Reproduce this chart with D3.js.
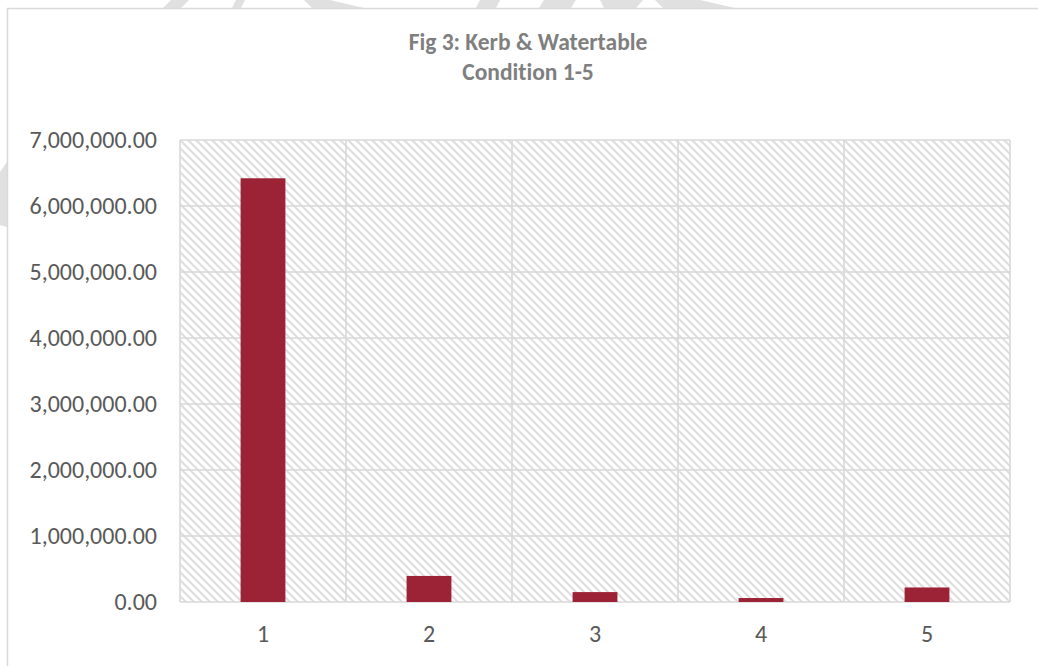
<!DOCTYPE html>
<html>
<head>
<meta charset="utf-8">
<script src="https://cdn.jsdelivr.net/npm/d3@7"></script>
<style>
  html, body { margin: 0; padding: 0; background: #ffffff; }
  svg { display: block; }
  text { font-variant-ligatures: none; }
</style>
</head>
<body>
<svg id="chart" width="1038" height="666"></svg>
<script>
// Kerb & watertable quantities by condition rating
const categories = ["1", "2", "3", "4", "5"];
const values = [6420000, 395000, 150000, 60000, 220000];
const yTicks = [0, 1000000, 2000000, 3000000, 4000000, 5000000, 6000000, 7000000];
const titleLines = ["Fig 3: Kerb & Watertable", "Condition 1-5"];

const W = 1038, H = 666;
const plot = { left: 180, right: 1010, top: 140, bottom: 602 };
const gridColor = "#d9d9d9";
const barColor = "#9c2235";
const fontFamily = "Calibri, Carlito, 'Liberation Sans', Arial, sans-serif";

const svg = d3.select("#chart");

// hatch fill for the plot area
const defs = svg.append("defs");
const pat = defs.append("pattern")
  .attr("id", "hatch")
  .attr("patternUnits", "userSpaceOnUse")
  .attr("width", 8).attr("height", 8);
pat.append("rect").attr("width", 8).attr("height", 8).attr("fill", "#ffffff");
pat.append("path")
  .attr("d", "M-2,-2 L10,10 M-2,6 L2,10 M6,-2 L10,2")
  .attr("stroke", "#dedede")
  .attr("stroke-width", 2);

// faint page watermark pieces peeking out around the chart frame
const wm = svg.append("g").attr("fill", "#e0e0e0");
[
  [[163, 8], [171, 0], [189, 0], [181, 8]],
  [[232, 8], [236, 0], [245, 0], [241, 8]],
  [[304, 0], [330, 0], [364, 8], [312, 8]],
  [[476, 8], [480, 0], [500, 0], [496, 8]],
  [[539, 8], [544, 0], [576, 0], [571, 8]],
  [[600, 0], [643, 0], [636, 8], [604, 8]],
  [[655, 0], [700, 0], [735, 8], [663, 8]],
  [[7, 162], [0, 172], [0, 225], [7, 227]]
].forEach(p => wm.append("polygon").attr("points", p.map(d => d.join(",")).join(" ")));

// chart frame
svg.append("rect")
  .attr("x", 7.5).attr("y", 8.5)
  .attr("width", W + 20).attr("height", H + 20)
  .attr("fill", "#ffffff")
  .attr("stroke", gridColor)
  .attr("stroke-width", 1.5);

// scales
const x = d3.scaleBand()
  .domain(categories)
  .range([plot.left, plot.right])
  .padding(0);
const y = d3.scaleLinear()
  .domain([0, 7000000])
  .range([plot.bottom, plot.top]);

// plot background
svg.append("rect")
  .attr("x", plot.left).attr("y", plot.top)
  .attr("width", plot.right - plot.left)
  .attr("height", plot.bottom - plot.top)
  .attr("fill", "url(#hatch)");

// horizontal gridlines
svg.append("g")
  .selectAll("line")
  .data(yTicks)
  .join("line")
  .attr("x1", plot.left).attr("x2", plot.right)
  .attr("y1", d => y(d)).attr("y2", d => y(d))
  .attr("stroke", gridColor)
  .attr("stroke-width", 1.6);

// vertical gridlines at category boundaries
const bounds = categories.map(c => x(c)).concat([x(categories[categories.length - 1]) + x.bandwidth()]);
svg.append("g")
  .selectAll("line")
  .data(bounds)
  .join("line")
  .attr("x1", d => d).attr("x2", d => d)
  .attr("y1", plot.top).attr("y2", plot.bottom)
  .attr("stroke", gridColor)
  .attr("stroke-width", 1.6);

// bars
const barW = x.bandwidth() * 0.27;
svg.append("g")
  .selectAll("rect")
  .data(values)
  .join("rect")
  .attr("x", (d, i) => x(categories[i]) + (x.bandwidth() - barW) / 2)
  .attr("y", d => y(d))
  .attr("width", barW)
  .attr("height", d => y(0) - y(d))
  .attr("fill", barColor);

// y axis labels
const yAxis = d3.axisLeft(y)
  .tickValues(yTicks)
  .tickFormat(d3.format(",.2f"))
  .tickSize(0)
  .tickPadding(23);
const gy = svg.append("g")
  .attr("transform", `translate(${plot.left},0)`)
  .call(yAxis);
gy.select(".domain").remove();
gy.selectAll("text")
  .attr("fill", "#595959")
  .style("font-family", fontFamily)
  .style("font-size", "24px");

// x axis labels
const xAxis = d3.axisBottom(x).tickSize(0).tickPadding(23);
const gx = svg.append("g")
  .attr("transform", `translate(0,${plot.bottom})`)
  .call(xAxis);
gx.select(".domain").remove();
gx.selectAll("text")
  .attr("fill", "#595959")
  .style("font-family", fontFamily)
  .style("font-size", "24px");

// title
svg.append("g")
  .selectAll("text")
  .data(titleLines)
  .join("text")
  .attr("x", 528)
  .attr("y", (d, i) => 50 + i * 30)
  .attr("text-anchor", "middle")
  .attr("fill", "#7f7f7f")
  .style("font-family", fontFamily)
  .style("font-weight", "bold")
  .style("font-size", "23.5px")
  .text(d => d);
</script>
</body>
</html>
